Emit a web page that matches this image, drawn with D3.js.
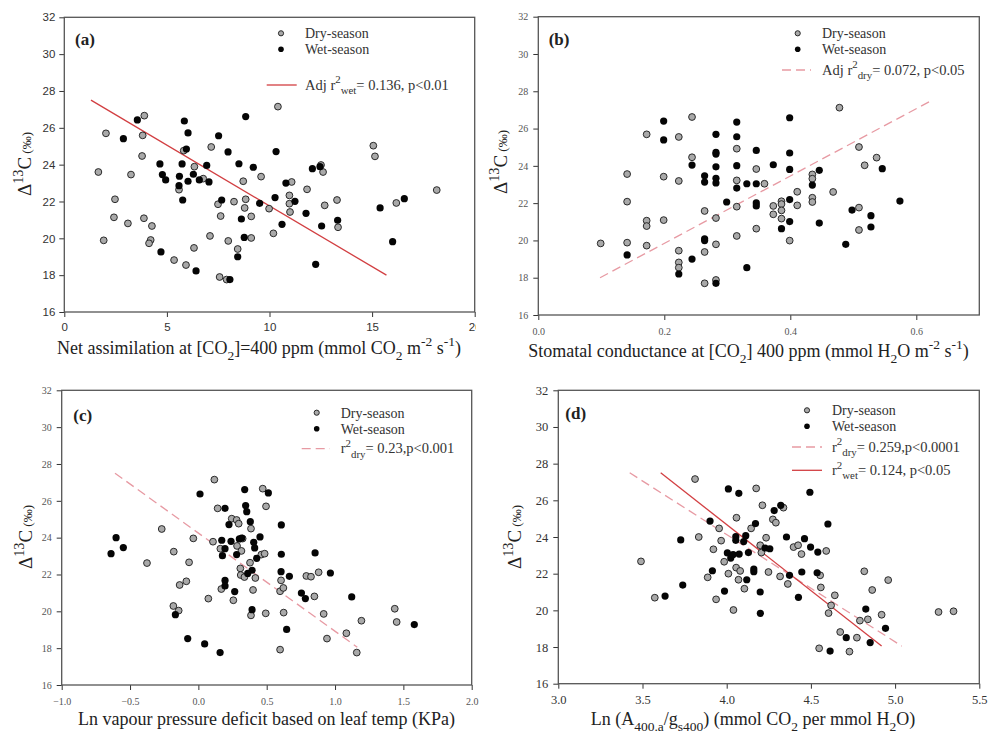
<!DOCTYPE html>
<html>
<head>
<meta charset="utf-8">
<script src="https://cdn.jsdelivr.net/npm/d3@7"></script>
<style>
  body { margin: 0; background: #fff; }
  svg { display: block; }
</style>
</head>
<body>
<svg id="chart" width="992" height="733"></svg>
<script>
// Delta 13C vs leaf gas exchange -- four panels, dry vs wet season

var yTicks = [16, 18, 20, 22, 24, 26, 28, 30, 32];

// (a) net assimilation
var aDry = [[1.66,23.6],[2.03,25.7],[1.92,19.89],[2.47,22.12],[2.42,21.14],[3.10,20.81],[3.25,23.46],[3.90,26.66],
  [3.82,25.59],[3.79,24.47],[3.88,21.09],[4.27,20.67],[4.21,19.91],[4.13,19.73],[5.35,18.82],[5.59,22.64],
  [5.93,18.55],[5.82,24.76],[6.34,23.89],[6.32,19.48],[6.77,23.24],[7.10,20.13],[7.16,24.96],[7.49,21.85],
  [7.62,21.21],[7.57,17.90],[7.91,17.76],[7.99,19.86],[8.27,21.99],[8.45,19.42],[8.72,23.10],[8.84,22.12],
  [8.79,21.65],[9.11,21.19],[9.11,20.02],[9.59,23.35],[9.98,21.61],[10.19,20.27],[10.41,27.15],[10.97,22.33],
  [11.08,23.06],[10.97,21.88],[11.00,21.43],[11.83,22.66],[12.51,23.98],[12.61,23.60],[12.69,21.79],[13.29,22.08],
  [13.34,20.60],[15.06,25.03],[15.14,24.45],[16.18,21.92],[18.15,22.62]];
var aWet = [[2.88,25.41],[3.56,26.43],[4.66,24.04],[4.78,23.46],[4.94,23.17],[4.71,19.26],[5.61,23.37],[5.59,22.86],
  [5.74,24.04],[5.77,22.08],[5.85,26.37],[5.95,24.85],[6.03,25.72],[6.03,23.10],[6.29,23.48],[6.42,18.23],
  [6.58,23.17],[6.94,23.96],[7.05,23.06],[7.52,25.57],[7.67,22.08],[7.98,24.69],[8.07,17.76],[8.51,24.05],
  [8.63,21.05],[8.45,19.00],[8.77,20.05],[8.84,26.61],[9.21,23.86],[9.52,21.90],[10.27,22.21],[10.32,24.71],
  [10.61,20.76],[10.80,23.00],[11.24,22.01],[11.78,21.36],[12.09,23.78],[12.25,18.59],[12.46,23.89],[12.54,20.67],
  [13.32,20.98],[15.39,21.65],[16.00,19.82],[16.57,22.15]];
var aWetFit = [[1.3,27.5],[15.7,18.0]];
var aTicks = [0, 5, 10, 15, 20];

// (b) stomatal conductance
var bDry = [[0.099,19.84],[0.141,23.56],[0.141,22.08],[0.141,19.88],[0.172,25.69],[0.172,21.06],[0.172,20.77],
  [0.172,19.72],[0.199,23.42],[0.199,21.09],[0.223,25.55],[0.223,23.19],[0.223,19.45],[0.223,18.82],[0.223,18.54],
  [0.244,26.62],[0.244,24.46],[0.264,21.58],[0.264,19.38],[0.264,17.70],[0.282,21.20],[0.282,19.79],[0.282,17.88],
  [0.315,24.92],[0.315,23.22],[0.315,21.81],[0.315,20.24],[0.346,23.83],[0.346,20.63],[0.359,23.04],[0.373,21.85],
  [0.373,21.40],[0.386,22.10],[0.386,21.95],[0.386,21.61],[0.386,21.17],[0.399,19.99],[0.411,22.61],[0.411,21.88],
  [0.435,23.54],[0.435,23.31],[0.435,22.29],[0.435,22.06],[0.468,22.60],[0.478,27.12],[0.509,25.01],[0.509,21.76],
  [0.509,20.56],[0.518,24.03],[0.537,24.44]];
var bWet = [[0.141,19.22],[0.199,26.40],[0.199,25.39],[0.223,18.20],[0.244,24.04],[0.244,19.00],[0.264,23.47],
  [0.264,23.13],[0.264,20.09],[0.264,19.99],[0.282,25.69],[0.282,24.72],[0.282,24.63],[0.282,23.95],[0.282,23.33],
  [0.282,23.08],[0.282,17.70],[0.299,22.06],[0.315,26.35],[0.315,25.56],[0.315,24.01],[0.315,22.81],[0.331,23.04],
  [0.331,18.54],[0.346,24.83],[0.346,23.04],[0.346,22.01],[0.346,21.85],[0.373,24.06],[0.386,20.63],[0.399,26.58],
  [0.399,24.69],[0.399,23.81],[0.399,22.19],[0.399,21.01],[0.435,22.97],[0.446,23.76],[0.446,20.93],[0.488,19.79],
  [0.498,21.63],[0.528,21.33],[0.528,20.72],[0.546,23.85],[0.574,22.11]];
var bDryFit = [[0.098,18.0],[0.624,27.5]];
var bTicks = [0, 0.2, 0.4, 0.6];

// (c) ln VPD
var cDry = [[-0.376,22.62],[-0.268,24.47],[-0.180,23.24],[-0.183,20.29],[-0.144,20.04],[-0.137,21.43],[-0.088,21.63],
  [-0.068,22.66],[-0.037,23.96],[0.073,20.69],[0.107,23.78],[0.117,27.15],[0.141,25.59],[0.161,23.40],[0.168,21.21],
  [0.244,25.03],[0.280,24.96],[0.295,24.76],[0.256,20.60],[0.283,23.55],[0.315,23.28],[0.324,23.95],[0.307,22.33],
  [0.310,21.97],[0.337,21.86],[0.378,22.64],[0.385,24.49],[0.417,21.81],[0.400,21.16],[0.385,19.78],[0.471,26.66],
  [0.495,25.70],[0.461,23.08],[0.485,23.13],[0.493,19.89],[0.598,21.09],[0.605,21.68],[0.622,21.27],[0.624,19.93],
  [0.598,17.92],[0.790,21.92],[0.824,21.88],[0.880,22.12],[0.849,20.81],[0.917,19.86],[0.941,18.52],[1.083,18.81],
  [1.159,17.76],[1.193,19.49],[1.437,20.14],[1.451,19.42]];
var cWet = [[-0.639,23.13],[-0.602,24.00],[-0.549,23.46],[-0.168,19.82],[-0.078,18.52],[0.012,26.37],[0.046,18.23],
  [0.159,17.76],[0.171,23.86],[0.176,23.02],[0.195,25.59],[0.195,23.40],[0.195,21.68],[0.195,21.38],[0.224,24.71],
  [0.239,23.80],[0.266,21.07],[0.280,23.08],[0.300,23.93],[0.317,23.98],[0.339,26.61],[0.346,25.74],[0.354,25.41],
  [0.380,24.87],[0.393,22.23],[0.405,23.75],[0.412,23.44],[0.393,20.09],[0.427,22.88],[0.451,24.04],[0.512,26.43],
  [0.607,24.69],[0.607,23.10],[0.605,22.15],[0.666,21.90],[0.646,19.02],[0.754,20.99],[0.783,20.69],[0.854,23.17],
  [0.966,22.08],[1.122,20.78],[1.580,19.28],[0.361,22.06]];
var cDryFit = [[-0.61,27.5],[1.163,18.05]];
var cTicks = [-1, -0.5, 0, 0.5, 1, 1.5, 2];

// (d) ln(A/gs)
var dDry = [[3.491,22.67],[3.573,20.69],[3.812,27.16],[3.834,24.00],[3.887,21.80],[3.921,23.33],[3.937,20.60],
  [3.955,24.47],[3.967,23.80],[3.985,22.65],[4.010,22.00],[4.040,20.02],[4.058,25.05],[4.056,22.33],[4.070,21.67],
  [4.080,22.15],[4.105,21.18],[4.145,24.47],[4.175,26.65],[4.199,23.55],[4.206,23.15],[4.212,25.73],[4.234,23.96],
  [4.248,22.09],[4.274,24.96],[4.292,24.78],[4.317,21.85],[4.337,25.60],[4.363,21.44],[4.397,23.45],[4.424,23.55],
  [4.444,23.07],[4.555,21.91],[4.559,21.25],[4.549,17.93],[4.591,23.24],[4.605,19.85],[4.620,20.27],[4.642,20.82],
  [4.674,18.82],[4.729,17.75],[4.773,18.51],[4.791,19.44],[4.817,22.13],[4.838,19.51],[4.864,21.11],[4.920,19.76],
  [4.959,21.65],[5.258,19.91],[5.347,19.95]];
var dWet = [[3.634,20.78],[3.727,23.84],[3.739,21.38],[3.901,24.87],[3.915,22.16],[3.987,21.05],[4.004,23.13],
  [4.010,26.62],[4.024,22.85],[4.038,23.04],[4.054,24.02],[4.054,23.82],[4.072,26.38],[4.074,23.07],[4.101,23.75],
  [4.113,24.07],[4.119,21.67],[4.129,23.15],[4.161,22.25],[4.161,22.11],[4.171,24.73],[4.199,21.00],[4.200,19.84],
  [4.228,23.40],[4.256,23.36],[4.282,25.44],[4.321,25.73],[4.355,24.00],[4.373,21.91],[4.426,20.71],[4.446,22.09],
  [4.462,23.91],[4.494,26.44],[4.498,23.45],[4.537,22.05],[4.541,23.18],[4.601,24.71],[4.614,17.78],[4.710,18.51],
  [4.826,20.07],[4.852,18.24],[4.943,19.02]];
var dDryFit = [[3.424,27.5],[5.04,18.05]];
var dWetFit = [[3.608,27.5],[4.92,18.05]];
var dTicks = [3, 3.5, 4, 4.5, 5, 5.5];

var SERIF = "'Liberation Serif', 'DejaVu Serif', serif";
var SANS = "'Liberation Sans', Arial, sans-serif";
var SOLID_RED = "#d23f42", DASH_PINK = "#e79aa3";

var svg = d3.select("#chart");

// write text with sup / sub / small parts as tspans
function richText(sel, parts, size) {
  var cur = 0;
  parts.forEach(function (p) {
    var target = p.s === "sup" ? -0.42 * size : p.s === "sub" ? 0.32 * size : 0;
    var fs = p.s ? size * 0.75 : size;
    sel.append("tspan").attr("dy", target - cur).attr("font-size", fs).text(p.t);
    cur = target;
  });
}

function drawPanel(cfg) {
  var g = svg.append("g");
  if (cfg.clip) {
    svg.append("clipPath").attr("id", cfg.id + "clip")
      .append("rect").attr("x", 0).attr("y", 0).attr("width", cfg.clip).attr("height", 733);
    g.attr("clip-path", "url(#" + cfg.id + "clip)");
  }
  var x = d3.scaleLinear().domain(cfg.xDomain).range([cfg.L, cfg.R]);
  var y = d3.scaleLinear().domain([16, 32]).range([cfg.B, cfg.T]);

  var xa = g.append("g").attr("transform", "translate(0," + cfg.B + ")")
    .call(d3.axisBottom(x).tickValues(cfg.xTicks).tickSize(5).tickSizeOuter(0).tickPadding(cfg.tickPad).tickFormat(cfg.xFmt));
  var ya = g.append("g").attr("transform", "translate(" + cfg.L + ",0)")
    .call(d3.axisLeft(y).tickValues(yTicks).tickSize(5).tickSizeOuter(0).tickPadding(cfg.tickPadY).tickFormat(d3.format("d")));
  [xa, ya].forEach(function (a) {
    a.select(".domain").remove();
    a.selectAll(".tick line").attr("stroke", "#333");
    a.selectAll("text").attr("font-family", cfg.tickFont).attr("font-size", cfg.tickSize).attr("fill", cfg.tickColor);
  });

  g.append("rect").attr("x", cfg.L).attr("y", cfg.T).attr("width", cfg.R - cfg.L).attr("height", cfg.B - cfg.T)
    .attr("fill", "none").attr("stroke", "#555").attr("stroke-width", 1.3);

  // fit lines
  var line = d3.line().x(function (d) { return x(d[0]); }).y(function (d) { return y(d[1]); });
  cfg.fits.forEach(function (f) {
    g.append("path").datum(f.data).attr("d", line).attr("fill", "none")
      .attr("stroke", f.dash ? DASH_PINK : SOLID_RED).attr("stroke-width", 1.3)
      .attr("stroke-dasharray", f.dash ? "9,5" : null);
  });

  // points
  g.append("g").selectAll("circle").data(cfg.dry).join("circle")
    .attr("cx", function (d) { return x(d[0]); }).attr("cy", function (d) { return y(d[1]); })
    .attr("r", 3.4).attr("fill", "#a9a9a9").attr("stroke", "#1a1a1a").attr("stroke-width", 0.9);
  g.append("g").selectAll("circle").data(cfg.wet).join("circle")
    .attr("cx", function (d) { return x(d[0]); }).attr("cy", function (d) { return y(d[1]); })
    .attr("r", 3.6).attr("fill", "#050505");

  // panel letter
  g.append("text").attr("x", cfg.letterPos[0]).attr("y", cfg.letterPos[1])
    .attr("font-family", SERIF).attr("font-weight", "bold").attr("font-size", 17).attr("fill", "#222")
    .text(cfg.letter);

  // legend
  var lg = cfg.legend;
  g.append("circle").attr("cx", lg.mx).attr("cy", lg.y1).attr("r", 2.6)
    .attr("fill", "#a9a9a9").attr("stroke", "#1a1a1a").attr("stroke-width", 0.9);
  g.append("circle").attr("cx", lg.mx).attr("cy", lg.y2).attr("r", 2.8).attr("fill", "#050505");
  [["Dry-season", lg.y1], ["Wet-season", lg.y2]].forEach(function (t) {
    g.append("text").attr("x", lg.tx).attr("y", t[1]).attr("dy", "0.35em")
      .attr("font-family", SERIF).attr("font-size", 14).attr("fill", "#333").text(t[0]);
  });
  lg.lines.forEach(function (l) {
    g.append("line").attr("x1", lg.lx[0]).attr("x2", lg.lx[1]).attr("y1", l.y).attr("y2", l.y)
      .attr("stroke", l.dash ? DASH_PINK : SOLID_RED).attr("stroke-width", 1.3)
      .attr("stroke-dasharray", l.dash ? "9,5" : null);
    var t = g.append("text").attr("x", lg.tx).attr("y", l.y + 4.5)
      .attr("font-family", SERIF).attr("font-size", 14.5).attr("fill", "#333");
    richText(t, l.label, 14.5);
  });

  // x title
  var xt = g.append("text").attr("x", cfg.xTitlePos[0]).attr("y", cfg.xTitlePos[1]).attr("text-anchor", "middle")
    .attr("font-family", SERIF).attr("fill", "#222");
  richText(xt, cfg.xTitle, 18);

  // y title, the per mil part is smaller but on the baseline
  var yt = g.append("text").attr("transform", "translate(" + cfg.yTitlePos[0] + "," + cfg.yTitlePos[1] + ") rotate(-90)")
    .attr("text-anchor", "middle").attr("font-family", SERIF).attr("fill", "#222");
  richText(yt, [{t: "\u0394"}, {t: "13", s: "sup"}, {t: "C"}], 19);
  yt.append("tspan").attr("dy", 0).attr("font-size", 13).text(" (\u2030)");
}

var fmt1 = d3.format(".1f");

drawPanel({
  id: "a", clip: 476, L: 64.3, T: 17.3, R: 474.7, B: 312, xDomain: [0, 20], xTicks: aTicks, xFmt: d3.format("d"),
  tickFont: SANS, tickSize: 11.5, tickColor: "#333", tickPad: 6, tickPadY: 4,
  dry: aDry, wet: aWet, fits: [{data: aWetFit, dash: false}],
  letter: "(a)", letterPos: [75, 45],
  legend: {mx: 281, tx: 305, y1: 33.3, y2: 49.3, lx: [266.7, 296.7],
    lines: [{y: 85, dash: false, label: [{t: "Adj r"}, {t: "2", s: "sup"}, {t: "wet", s: "sub"}, {t: "= 0.136, p<0.01"}]}]},
  xTitlePos: [259, 354],
  xTitle: [{t: "Net assimilation at [CO"}, {t: "2", s: "sub"}, {t: "]=400 ppm (mmol CO"}, {t: "2", s: "sub"},
    {t: " m"}, {t: "-2", s: "sup"}, {t: " s"}, {t: "-1", s: "sup"}, {t: ")"}],
  yTitlePos: [31, 164]
});

drawPanel({
  id: "b", L: 538.3, T: 16.7, R: 979.3, B: 315, xDomain: [0, 0.7], xTicks: bTicks, xFmt: fmt1,
  tickFont: SERIF, tickSize: 10, tickColor: "#555", tickPad: 8, tickPadY: 5,
  dry: bDry, wet: bWet, fits: [{data: bDryFit, dash: true}],
  letter: "(b)", letterPos: [548.7, 45],
  legend: {mx: 797.7, tx: 822, y1: 33.3, y2: 49.3, lx: [782, 811],
    lines: [{y: 70, dash: true, label: [{t: "Adj r"}, {t: "2", s: "sup"}, {t: "dry", s: "sub"}, {t: "= 0.072, p<0.05"}]}]},
  xTitlePos: [748.5, 357],
  xTitle: [{t: "Stomatal conductance at [CO"}, {t: "2", s: "sub"}, {t: "] 400 ppm (mmol H"}, {t: "2", s: "sub"},
    {t: "O m"}, {t: "-2", s: "sup"}, {t: " s"}, {t: "-1", s: "sup"}, {t: ")"}],
  yTitlePos: [507, 162]
});

drawPanel({
  id: "c", L: 61.7, T: 390.3, R: 471.7, B: 685, xDomain: [-1, 2], xTicks: cTicks, xFmt: fmt1,
  tickFont: SERIF, tickSize: 10, tickColor: "#555", tickPad: 8, tickPadY: 5,
  dry: cDry, wet: cWet, fits: [{data: cDryFit, dash: true}],
  letter: "(c)", letterPos: [73.3, 421],
  legend: {mx: 316.7, tx: 340.7, y1: 412.7, y2: 428.7, lx: [301.7, 330],
    lines: [{y: 448.7, dash: true, label: [{t: "r"}, {t: "2", s: "sup"}, {t: "dry", s: "sub"}, {t: "= 0.23,p<0.001"}]}]},
  xTitlePos: [266.5, 725],
  xTitle: [{t: "Ln vapour pressure deficit based on leaf temp (KPa)"}],
  yTitlePos: [32, 537]
});

drawPanel({
  id: "d", L: 558.3, T: 390.3, R: 979.3, B: 683.7, xDomain: [3, 5.5], xTicks: dTicks, xFmt: fmt1,
  tickFont: SERIF, tickSize: 12.5, tickColor: "#333", tickPad: 6, tickPadY: 5,
  dry: dDry, wet: dWet, fits: [{data: dDryFit, dash: true}, {data: dWetFit, dash: false}],
  letter: "(d)", letterPos: [565.3, 419.3],
  legend: {mx: 807, tx: 832, y1: 410.3, y2: 426.3, lx: [792, 822],
    lines: [{y: 447, dash: true, label: [{t: "r"}, {t: "2", s: "sup"}, {t: "dry", s: "sub"}, {t: "= 0.259,p<0.0001"}]},
            {y: 470.3, dash: false, label: [{t: "r"}, {t: "2", s: "sup"}, {t: "wet", s: "sub"}, {t: "= 0.124, p<0.05"}]}]},
  xTitlePos: [753, 725],
  xTitle: [{t: "Ln (A"}, {t: "400.a", s: "sub"}, {t: "/g"}, {t: "s400", s: "sub"},
    {t: ") (mmol CO"}, {t: "2", s: "sub"}, {t: " per mmol H"}, {t: "2", s: "sub"}, {t: "O)"}],
  yTitlePos: [521, 537]
});
</script>
</body>
</html>
